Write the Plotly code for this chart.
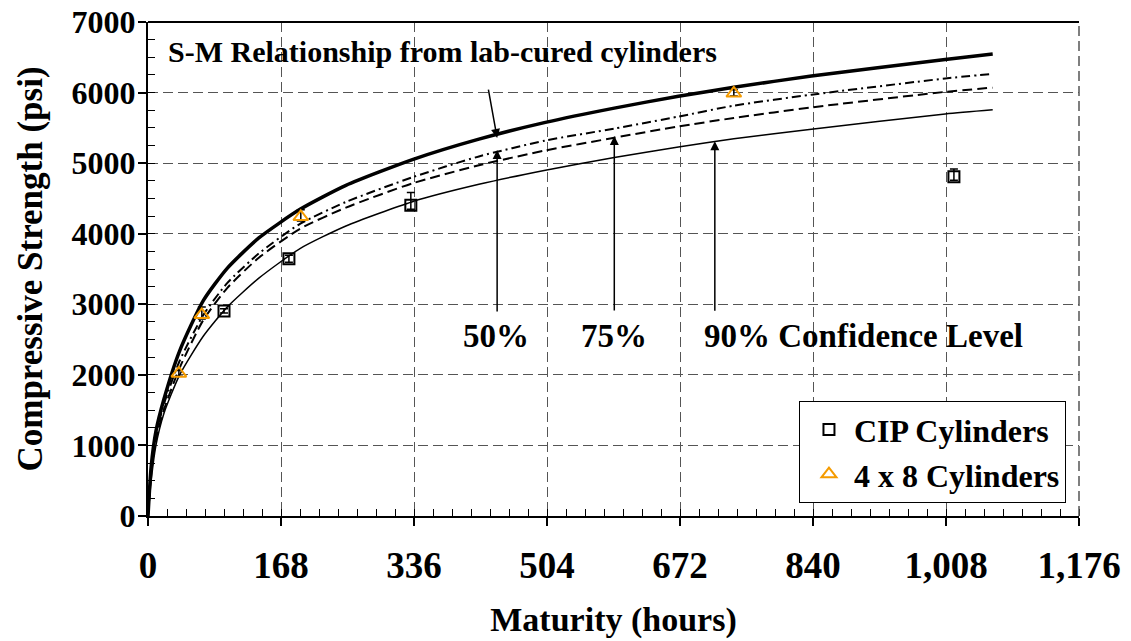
import plotly.graph_objects as go

# --- Strength-maturity curves (maturity in hours, strength in psi) ---
curve_x = [0, 4, 10, 20, 40, 70, 100, 140, 192, 250, 334, 418, 502, 589, 670, 740, 838, 1007, 1067]
sm_lab = [0, 700, 1200, 1650, 2340, 3055, 3510, 3940, 4345, 4685, 5050, 5340, 5578, 5780, 5947, 6075, 6234, 6469, 6546]
conf_50 = [0, 650, 1150, 1580, 2200, 2850, 3300, 3720, 4140, 4450, 4800, 5095, 5320, 5490, 5660, 5815, 5970, 6200, 6265]
conf_75 = [0, 600, 1080, 1500, 2100, 2780, 3230, 3660, 4070, 4370, 4714, 4970, 5180, 5360, 5520, 5640, 5790, 6010, 6070]
conf_90 = [0, 500, 1000, 1450, 2000, 2550, 2960, 3370, 3790, 4110, 4454, 4700, 4900, 5080, 5230, 5345, 5480, 5696, 5755]

# --- Measured specimens (error bars: upper / lower) ---
cip_x = [96, 178, 332, 1018]
cip_y = [2905, 3645, 4405, 4808]
cip_err_up = [30, 50, 180, 110]
cip_err_down = [30, 50, 60, 50]

c48_x = [39, 68, 193, 740]
c48_y = [2020, 2850, 4240, 5990]
c48_err_up = [40, 110, 100, 50]
c48_err_down = [40, 60, 60, 40]

x_ticks = [0, 168, 336, 504, 672, 840, 1008, 1176]
x_tick_text = ["0", "168", "336", "504", "672", "840", "1,008", "1,176"]
y_ticks = [0, 1000, 2000, 3000, 4000, 5000, 6000, 7000]

FONT = "Liberation Serif, Times New Roman, serif"
GRID = "#555555"

fig = go.Figure()

curve_styles = [
    (sm_lab, dict(color="black", width=3.5)),
    (conf_50, dict(color="black", width=2, dash="9px,4px,2px,4px")),
    (conf_75, dict(color="black", width=2, dash="10px,5px")),
    (conf_90, dict(color="black", width=1.5)),
]
for ys, line in curve_styles:
    fig.add_trace(go.Scatter(x=curve_x, y=ys, mode="lines", line=dict(shape="spline", smoothing=0.6, **line),
                             showlegend=False, hoverinfo="skip"))

fig.add_trace(go.Scatter(
    x=cip_x, y=cip_y, mode="markers", name="CIP Cylinders",
    marker=dict(symbol="square-open", size=11, color="black", line=dict(width=2, color="black")),
    error_y=dict(type="data", symmetric=False, array=cip_err_up, arrayminus=cip_err_down,
                 color="black", thickness=1.5, width=4),
))
fig.add_trace(go.Scatter(
    x=c48_x, y=c48_y, mode="markers", name="4 x 8 Cylinders",
    marker=dict(symbol="triangle-up-open", size=13, color="#F59B00", line=dict(width=2, color="#F59B00")),
    error_y=dict(type="data", symmetric=False, array=c48_err_up, arrayminus=c48_err_down,
                 color="black", thickness=1.5, width=4),
))

# Arrows pointing to the curves
arrow_common = dict(showarrow=True, arrowhead=2, arrowsize=1.2, arrowwidth=1.5, arrowcolor="black", text="",
                    xref="x", yref="y", axref="pixel", ayref="pixel")
fig.add_annotation(x=441, y=5356, ax=-9, ay=-50, **arrow_common)
fig.add_annotation(x=441, y=5186, ax=0, ay=163, **arrow_common)
fig.add_annotation(x=589, y=5385, ax=0, ay=176, **arrow_common)
fig.add_annotation(x=716, y=5310, ax=0, ay=171, **arrow_common)

label_font = dict(family=FONT, size=33, color="black", weight="bold")
fig.add_annotation(x=23, y=6575, text="S-M Relationship from lab-cured cylinders", showarrow=False,
                   xanchor="left", yanchor="middle", font=dict(family=FONT, size=30, color="black", weight="bold"))
fig.add_annotation(x=440, y=2551, text="50%", showarrow=False, xanchor="center", yanchor="middle", font=label_font)
fig.add_annotation(x=589, y=2551, text="75%", showarrow=False, xanchor="center", yanchor="middle", font=label_font)
fig.add_annotation(x=904, y=2551, text="90% Confidence Level", showarrow=False, xanchor="center",
                   yanchor="middle", font=label_font)

# Plot frame: solid top edge, dashed right edge
fig.add_shape(type="line", xref="paper", yref="paper", x0=0, x1=1, y0=1, y1=1, line=dict(color="black", width=2))
fig.add_shape(type="line", xref="paper", yref="paper", x0=1, x1=1, y0=0, y1=1,
              line=dict(color=GRID, width=1.5, dash="10px,5px"))

fig.update_xaxes(
    range=[0, 1176], tickvals=x_ticks, ticktext=x_tick_text,
    tickfont=dict(family=FONT, size=37, color="black", weight="bold"), ticklabelstandoff=8,
    ticks="outside", ticklen=8, tickwidth=1.5, tickcolor="black",
    showline=True, linecolor="black", linewidth=2,
    showgrid=True, gridcolor=GRID, gridwidth=1, griddash="10px,5px", zeroline=False,
    minor=dict(dtick=24, tick0=0, ticks="inside", ticklen=7, tickcolor="black", tickwidth=1, showgrid=False),
    title=dict(text="Maturity (hours)", font=dict(family=FONT, size=34, color="black", weight="bold"), standoff=22),
    automargin=False,
)
fig.update_yaxes(
    range=[0, 7000], tickvals=y_ticks,
    tickfont=dict(family=FONT, size=32, color="black", weight="bold"), ticklabelstandoff=-4,
    ticks="outside", ticklen=8, tickwidth=1.5, tickcolor="black",
    showline=True, linecolor="black", linewidth=2,
    showgrid=True, gridcolor=GRID, gridwidth=1, griddash="10px,5px", zeroline=False,
    minor=dict(dtick=250, tick0=0, ticks="inside", ticklen=7, tickcolor="black", tickwidth=1, showgrid=False),
    title=dict(text="Compressive Strength (psi)", font=dict(family=FONT, size=35, color="black", weight="bold"),
               standoff=18),
    automargin=False,
)

fig.update_layout(
    width=1131, height=641,
    margin=dict(l=148, r=52, t=22, b=125),
    paper_bgcolor="white", plot_bgcolor="white",
    font=dict(family=FONT, color="black"),
    legend=dict(x=0.986, y=0.026, xanchor="right", yanchor="bottom",
                bgcolor="white", bordercolor="black", borderwidth=1, itemwidth=40, indentation=4,
                font=dict(family=FONT, size=32, color="black", weight="bold")),
)

fig.write_html("out.html")
